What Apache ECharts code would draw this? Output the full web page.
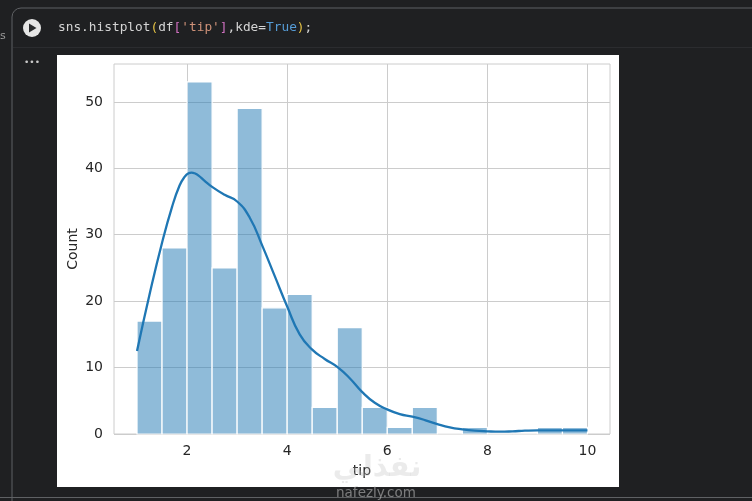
<!DOCTYPE html>
<html><head><meta charset="utf-8">
<style>html,body{margin:0;padding:0;background:#1f2022;overflow:hidden}#c{width:752px;height:501px}</style>
<script src="https://cdn.jsdelivr.net/npm/echarts@6/dist/echarts.min.js"></script>
</head><body><div id="c"></div>
<script>
const binEdgesStart = [1,1.5,2,2.5,3,3.5,4,4.5,5,5.5,6,6.5,7,7.5,8,8.5,9,9.5];
const binEdgesEnd = [1.5,2,2.5,3,3.5,4,4.5,5,5.5,6,6.5,7,7.5,8,8.5,9,9.5,10];
const counts = [17,28,53,25,49,19,21,4,16,4,1,4,0,1,0,0,1,1];
const kdeX = [1,1.25,1.5,1.7,1.85,1.95,2.03,2.09,2.15,2.23,2.35,2.5,2.75,3,3.25,3.5,3.75,4,4.25,4.5,4.75,5,5.25,5.5,5.75,6,6.25,6.5,6.75,7,7.25,7.5,7.75,8,8.25,8.5,8.75,9,9.25,9.5,9.75,10];
const kdeY = [12.5,21,28.8,34.2,37.4,38.7,39.25,39.35,39.25,38.9,38.1,37.2,36,35,32.6,28.4,23.8,19.2,15,12.7,11.3,10.1,8.4,6.3,4.7,3.7,3,2.6,2.1,1.5,1,0.7,0.5,0.4,0.35,0.4,0.5,0.55,0.55,0.55,0.55,0.55];
const xTicks = [2,4,6,8,10];
const yTicks = [0,10,20,30,40,50];
const xName = 'tip', yName = 'Count';

const chart = echarts.init(document.getElementById('c'), null, {renderer:'canvas'});
chart.setOption({
  animation:false,
  backgroundColor:'#1f2022',
  grid:{left:114,top:64,width:496,height:370,show:true,borderColor:'#cccccc',borderWidth:1,z:2},
  xAxis:{type:'value',z:2,min:0.54,max:10.45,name:xName,nameLocation:'middle',nameGap:30,nameMoveOverlap:false,
    nameTextStyle:{color:'#262626',fontSize:14,fontFamily:'DejaVu Sans'},
    axisLine:{show:false},axisTick:{show:false,customValues:xTicks},
    axisLabel:{color:'#262626',fontSize:14,fontFamily:'DejaVu Sans',margin:10,customValues:xTicks},
    splitLine:{show:true,lineStyle:{color:'#cccccc',width:1}}},
  yAxis:{type:'value',z:2,min:0,max:55.7,name:yName,nameLocation:'middle',nameGap:34,nameMoveOverlap:false,
    nameTextStyle:{color:'#262626',fontSize:14,fontFamily:'DejaVu Sans'},
    axisLine:{show:false},axisTick:{show:false,customValues:yTicks},
    axisLabel:{color:'#262626',fontSize:14,fontFamily:'DejaVu Sans',margin:11,customValues:yTicks},
    splitLine:{show:true,lineStyle:{color:'#cccccc',width:1}}},
  series:[
    {type:'custom',coordinateSystem:'cartesian2d',z:3,
     data:counts.map((v,i)=>[binEdgesStart[i],binEdgesEnd[i],v]),
     encode:{x:[0,1],y:2},
     renderItem(params,api){
       const a=api.coord([api.value(0),0]), b=api.coord([api.value(1),api.value(2)]);
       return {type:'rect',shape:{x:a[0],y:b[1],width:b[0]-a[0],height:a[1]-b[1]},
         style:{fill:'rgba(31,119,180,0.5)',stroke:'#ffffff',lineWidth:1.2}};
     }},
    {type:'line',z:4,data:kdeX.map((x,i)=>[x,kdeY[i]]),showSymbol:false,symbol:'none',smooth:0.5,
     lineStyle:{color:'#1f77b4',width:2.3},clip:true}
  ],
  graphic:[
    {type:'rect',z:0,silent:true,shape:{x:12,y:8,width:800,height:520,r:9},style:{fill:'#1f2022',stroke:'#5f6164',lineWidth:1}},
    {type:'rect',z:0,silent:true,shape:{x:13,y:47,width:800,height:1},style:{fill:'#2b2c2f'}},
    {type:'rect',z:1,silent:true,shape:{x:57,y:55,width:562,height:432},style:{fill:'#ffffff'}},
    {type:'rect',z:1,silent:true,shape:{x:0,y:497,width:752,height:1},style:{fill:'#5f6164'}},
    {type:'circle',z:5,silent:true,shape:{cx:32,cy:28,r:9},style:{fill:'#e6e6e6'}},
    {type:'polygon',z:6,silent:true,shape:{points:[[29,23.5],[29,32.5],[36.5,28]]},style:{fill:'#2a2b2d'}},
    {type:'text',z:5,silent:true,x:32,y:63,style:{text:'•••',fill:'#c8c8c8',font:'9px "DejaVu Sans"',align:'center',verticalAlign:'middle'}},
    {type:'text',z:5,silent:true,x:0,y:36,style:{text:'s',fill:'#9a9a9a',font:'11px "DejaVu Sans"',verticalAlign:'middle'}},
    {type:'text',z:5,silent:true,x:58,y:28,style:{
      text:'{w|sns.histplot}{y|(}{w|df}{p|[}{s|\'tip\'}{p|]}{w|,kde=}{b|True}{y|)}{w|;}',
      verticalAlign:'middle',
      font:'12.8px "DejaVu Sans Mono"',
      rich:{
        w:{fill:'#d4d4d4',font:'12.8px "DejaVu Sans Mono"'},
        y:{fill:'#e2c044',font:'12.8px "DejaVu Sans Mono"'},
        p:{fill:'#d070c0',font:'12.8px "DejaVu Sans Mono"'},
        s:{fill:'#ce9178',font:'12.8px "DejaVu Sans Mono"'},
        b:{fill:'#569cd6',font:'12.8px "DejaVu Sans Mono"'}
      }}},
    {type:'text',z:7,silent:true,x:377,y:468,style:{text:'نفذلي',fill:'rgba(190,190,190,0.3)',font:'bold 29px "DejaVu Sans"',align:'center',verticalAlign:'middle'}},
    {type:'text',z:7,silent:true,x:376,y:493,style:{text:'nafezly.com',fill:'rgba(200,200,200,0.55)',font:'13.5px "DejaVu Sans"',align:'center',verticalAlign:'middle'}}
  ]
});
</script></body></html>
